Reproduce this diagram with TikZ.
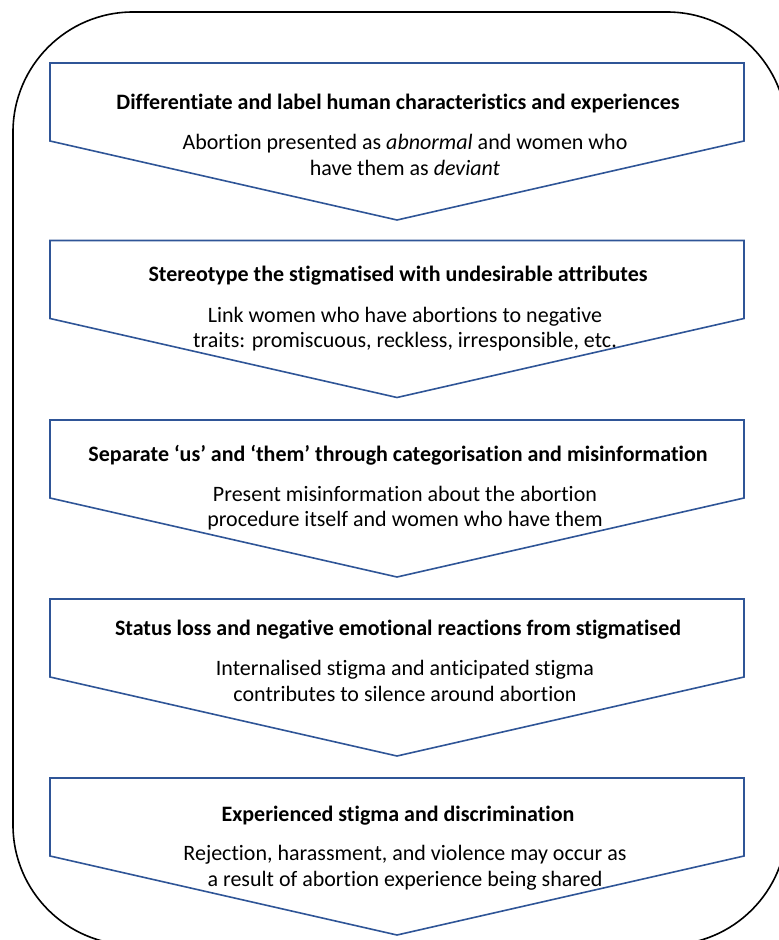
\documentclass[tikz,border=0pt]{standalone}
\usepackage{fontspec}
\setmainfont{Carlito}[Ligatures=NoCommon]
\definecolor{chevblue}{RGB}{47,85,151}
\tikzset{
  chevron/.style={draw=chevblue, line width=1.6pt, fill=white, line join=miter},
  frame/.style={draw=black, line width=1.6pt, rounded corners=120pt},
  headtext/.style={font=\fontsize{22}{26}\selectfont\bfseries, anchor=base, inner sep=0pt},
  bodytext/.style={font=\fontsize{22}{26}\selectfont, anchor=base, inner sep=0pt},
}
% one downward chevron, given its name and the y of its top edge
\newcommand{\chevronshape}[2]{%
  \draw[chevron] (50,#2) coordinate (#1-tl) -- (744,#2) coordinate (#1-tr)
    -- (744,#2+78) -- (397,#2+157) coordinate (#1-tip) -- (50,#2+78) -- cycle;}
\begin{document}
\begin{tikzpicture}[x=1pt, y=-1pt]
  \useasboundingbox (0,0) rectangle (779,940);
  \clip (0,0) rectangle (779,940);
  % outer rounded frame
  \draw[frame] (13,12) rectangle (787,945);

  % chevrons
  \chevronshape{c1}{63}
  \chevronshape{c2}{240.5}
  \chevronshape{c3}{420}
  \chevronshape{c4}{599}
  \chevronshape{c5}{778}

  % labels: heading, then two body lines
  \node[headtext] (h1) at (398,109) {Differentiate and label human characteristics and experiences};
  \node[bodytext] (b1a) at (405,149) {Abortion presented as \textit{abnormal} and women who};
  \node[bodytext] (b1b) at (405,175) {have them as \textit{deviant}};

  \node[headtext] (h2) at (398,281) {Stereotype the stigmatised with undesirable attributes};
  \node[bodytext] (b2a) at (405,322) {Link women who have abortions to negative};
  \node[bodytext] (b2b) at (405,347) {traits: promiscuous, reckless, irresponsible, etc.};

  \node[headtext] (h3) at (398,461) {Separate ‘us’ and ‘them’ through categorisation and misinformation};
  \node[bodytext] (b3a) at (405,501) {Present misinformation about the abortion};
  \node[bodytext] (b3b) at (405,526) {procedure itself and women who have them};

  \node[headtext] (h4) at (398,635) {Status loss and negative emotional reactions from stigmatised};
  \node[bodytext] (b4a) at (405,675) {Internalised stigma and anticipated stigma};
  \node[bodytext] (b4b) at (405,701) {contributes to silence around abortion};

  \node[headtext] (h5) at (398,821) {Experienced stigma and discrimination};
  \node[bodytext] (b5a) at (405,860) {Rejection, harassment, and violence may occur as};
  \node[bodytext] (b5b) at (405,886) {a result of abortion experience being shared};
\end{tikzpicture}
\end{document}
